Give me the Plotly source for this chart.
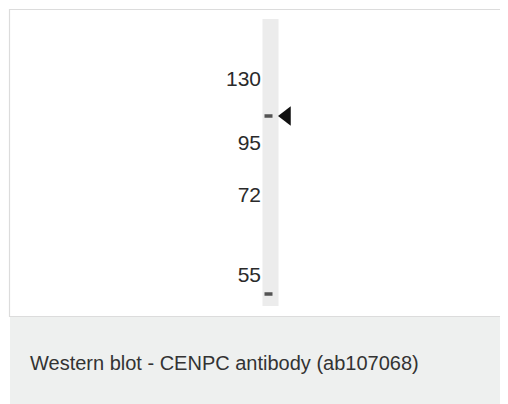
import plotly.graph_objects as go

# ladder markers (kDa) and where they sit on the membrane (image rows)
marker_kda = ["130", "95", "72", "55"]
marker_y = [81, 145, 197, 277]

# detected bands in the single lane
band_y = [116, 294]
band_thick = [3.5, 3.5]

# target band indicated by the arrowhead
arrow_y = [116]

caption = "Western blot - CENPC antibody (ab107068)"

W, H = 508, 404
PAD = 8  # page body margin; the axes are offset so one unit = one window pixel
lane_x, lane_w = 270.5, 16
lane_top, lane_bottom = 19, 306

fig = go.Figure()

# lane
fig.add_trace(go.Bar(x=[lane_x], y=[lane_bottom - lane_top], base=[lane_top], width=[lane_w],
                     marker=dict(color="#ececec", line=dict(width=0)), hoverinfo="skip"))
# bands
fig.add_trace(go.Bar(x=[lane_x - 2] * len(band_y), y=band_thick,
                     base=[b - t / 2 for b, t in zip(band_y, band_thick)], width=[8] * len(band_y),
                     marker=dict(color="#3a3a3a", line=dict(width=0)), opacity=0.85, hoverinfo="skip"))
# ladder labels
fig.add_trace(go.Scatter(x=[261] * len(marker_kda), y=marker_y, text=marker_kda, mode="text",
                         textposition="middle left",
                         textfont=dict(family="Liberation Sans, Arial", size=21, color="#2a2a2a"),
                         hoverinfo="skip"))
# arrowhead
fig.add_trace(go.Scatter(x=[286.5], y=arrow_y, mode="markers",
                         marker=dict(symbol="triangle-left", size=17, color="#111"),
                         hoverinfo="skip"))

fig.update_layout(
    width=W - 2 * PAD, height=H - PAD, margin=dict(l=0, r=0, t=0, b=0),
    paper_bgcolor="white", plot_bgcolor="rgba(0,0,0,0)",
    showlegend=False, barmode="overlay",
    xaxis=dict(range=[PAD, W - PAD], visible=False, fixedrange=True),
    yaxis=dict(range=[H, PAD], visible=False, fixedrange=True),
    shapes=[
        dict(type="rect", xref="x", yref="y", x0=10, x1=W + 10, y0=317, y1=H + 10,
             fillcolor="#eef0ef", line=dict(width=0), layer="below"),
        dict(type="rect", xref="x", yref="y", x0=9.5, x1=W + 10, y0=9.5, y1=316.5,
             fillcolor="rgba(0,0,0,0)", line=dict(color="#dcdcdc", width=1.2), layer="below"),
    ],
    annotations=[
        dict(text=caption, xref="x", yref="y", x=28, y=363, xanchor="left", yanchor="middle",
             showarrow=False, font=dict(family="Liberation Sans, Arial", size=20, color="#333")),
    ],
)

fig.write_html("out.html")
